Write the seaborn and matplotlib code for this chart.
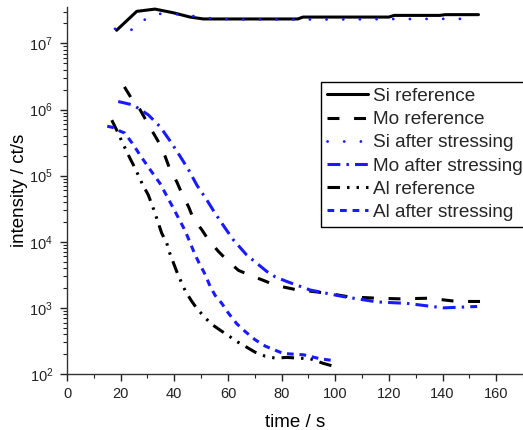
import numpy as np
import pandas as pd
import matplotlib
matplotlib.use("Agg")
import matplotlib.pyplot as plt
import seaborn as sns

# ---- data ----
si_ref_t = [18.5, 26, 32.8, 39.7, 45.9, 50.9, 60, 70, 86, 88, 120, 122, 139, 141, 153.4]
si_ref_i = [1.58e7, 3.05e7, 3.3e7, 2.9e7, 2.5e7, 2.34e7, 2.34e7, 2.34e7, 2.34e7,
            2.5e7, 2.5e7, 2.65e7, 2.65e7, 2.72e7, 2.72e7]

mo_ref_t = [21.4, 24, 27.2, 29.7, 32.2, 34.7, 36.6, 38.4, 40.9, 42.8, 45.3, 47.1, 50.3,
            52.7, 56.5, 59.6, 63.9, 68.3, 73.3, 77.6, 85, 97, 105, 115.6, 124, 135,
            145.5, 154]
mo_ref_i = [2.2e6, 1.48e6, 1.0e6, 6.6e5, 4.4e5, 2.95e5, 1.95e5, 1.23e5, 8.1e4, 5.4e4,
            3.4e4, 2.24e4, 1.51e4, 1.07e4, 7.1e3, 5.3e3, 3.7e3, 3.1e3, 2.6e3, 2.2e3,
            1.9e3, 1.67e3, 1.47e3, 1.4e3, 1.37e3, 1.4e3, 1.25e3, 1.25e3]

si_str_t = [17.9, 23.8, 28.5, 34.1, 39.7, 45.9, 51.5, 57.7, 63.3, 80, 100, 120, 140, 148.5]
si_str_i = [1.66e7, 1.58e7, 2.24e7, 2.8e7, 2.8e7, 2.63e7, 2.43e7, 2.34e7, 2.3e7, 2.3e7,
            2.3e7, 2.33e7, 2.35e7, 2.35e7]

mo_str_t = [19.1, 24.7, 30.3, 34.7, 39, 42.2, 45.3, 48.4, 52.1, 55.2, 59, 62, 67, 71.4,
            74.5, 77.6, 82, 90.7, 103, 115.6, 126.7, 140.3, 152.9]
mo_str_i = [1.32e6, 1.17e6, 8.3e5, 5.5e5, 3.1e5, 1.95e5, 1.23e5, 7.2e4, 4.3e4, 2.7e4,
            1.6e4, 1.07e4, 6.3e3, 4.5e3, 3.55e3, 2.95e3, 2.5e3, 1.86e3, 1.48e3, 1.23e3,
            1.17e3, 1.0e3, 1.05e3]

al_ref_t = [16.7, 18.5, 21, 23.5, 25.4, 28, 30.3, 32.5, 35.3, 37.2, 38.2, 40.9, 42.8,
            44.3, 46.5, 48.4, 51.5, 53.7, 57.1, 60.2, 63.3, 66.8, 70.1, 73.9, 77.6, 82,
            90.7, 95.5, 100]
al_ref_i = [6.9e5, 4.9e5, 2.95e5, 1.82e5, 1.29e5, 7.6e4, 5.1e4, 2.95e4, 1.35e4, 9.5e3,
            6.9e3, 3.55e3, 2.35e3, 1.74e3, 1.26e3, 9.8e2, 7.1e2, 5.75e2, 4.6e2, 3.8e2,
            3.1e2, 2.57e2, 2.14e2, 1.86e2, 1.74e2, 1.78e2, 1.7e2, 1.45e2, 1.29e2]

al_str_t = [15, 17.9, 19.8, 21.6, 22.9, 24.7, 27.2, 31, 34.7, 39, 44, 47.8, 49, 51.5,
            53.4, 55.2, 57.7, 60.2, 63.3, 66.4, 70.1, 74, 77.6, 80.7, 88.2, 94.4, 100]
al_str_i = [5.6e5, 5.25e5, 4.7e5, 4.4e5, 3.7e5, 2.95e5, 2.05e5, 1.23e5, 7.6e4, 3.6e4,
            1.48e4, 6.3e3, 5.0e3, 3.2e3, 2.1e3, 1.55e3, 1.17e3, 8.3e2, 5.75e2, 4.4e2,
            3.3e2, 2.63e2, 2.29e2, 2.04e2, 1.95e2, 1.7e2, 1.58e2]

labels = ["Si reference", "Mo reference", "Si after stressing",
          "Mo after stressing", "Al reference", "Al after stressing"]
x_ticks = [0, 20, 40, 60, 80, 100, 120, 140, 160]

series = [
    (labels[0], si_ref_t, si_ref_i),
    (labels[1], mo_ref_t, mo_ref_i),
    (labels[2], si_str_t, si_str_i),
    (labels[3], mo_str_t, mo_str_i),
    (labels[4], al_ref_t, al_ref_i),
    (labels[5], al_str_t, al_str_i),
]

BLUE = "#1a1aff"
LW = 2.2
styles = {
    labels[0]: dict(color="black", ls="-", cap="butt", lw=LW),
    labels[1]: dict(color="black", ls=(0, (3.9, 4.8)), cap="butt", lw=LW),
    labels[2]: dict(color=BLUE, ls=(0, (0.05, 5.95)), cap="round", lw=2.0),
    labels[3]: dict(color=BLUE, ls=(0, (4.2, 2.0, 0.8, 2.0)), cap="butt", lw=LW),
    labels[4]: dict(color="black", ls=(0, (4.1, 2.3, 0.8, 2.3, 0.8, 2.3)), cap="butt", lw=LW),
    labels[5]: dict(color=BLUE, ls=(0, (2.2, 1.9)), cap="butt", lw=LW),
}

sns.set_style("ticks")
plt.rcParams["font.family"] = ["Liberation Sans", "DejaVu Sans"]

fig = plt.figure(figsize=(5.23, 4.30), dpi=100)
ax = fig.add_axes([67 / 523, 56 / 430, 1 - 67 / 523, (374 - 7) / 430])

for name, t, i in series:
    df = pd.DataFrame({"time": t, "intensity": i})
    st = styles[name]
    sns.lineplot(data=df, x="time", y="intensity", ax=ax, color=st["color"],
                 linestyle=st["ls"], linewidth=st["lw"], label=name,
                 dash_capstyle=st["cap"])

ax.set_yscale("log")
ax.set_xlim(0, 170)
ax.set_ylim(100, 3.55e7)
ax.set_xticks(x_ticks)
ax.xaxis.set_minor_locator(matplotlib.ticker.MultipleLocator(10))
ax.yaxis.set_minor_locator(matplotlib.ticker.LogLocator(base=10, subs=np.arange(2, 10), numticks=20))
ax.tick_params(axis="both", which="major", direction="out", length=5, width=1,
               labelsize=10.5, colors="#222222", pad=4)
ax.tick_params(axis="y", which="major", pad=5)
ax.tick_params(axis="both", which="minor", direction="out", length=3, width=0.8,
               colors="#222222")
ax.set_xlabel("time / s", fontsize=13.5, color="black", labelpad=10)
ax.set_ylabel("intensity / ct/s", fontsize=13.5, color="black", labelpad=1)
sns.despine(ax=ax)
for sp in ["left", "bottom"]:
    ax.spines[sp].set_color("#333333")
    ax.spines[sp].set_linewidth(1.0)

leg = ax.legend(loc="upper left", bbox_to_anchor=(321 / 523, 1 - 82 / 430),
                bbox_transform=fig.transFigure, frameon=True, fancybox=False,
                edgecolor="black", framealpha=1, fontsize=13.7,
                handlelength=2.15, handletextpad=0.28, labelspacing=0.31,
                borderpad=0.3, borderaxespad=0)
leg.get_frame().set_linewidth(1.0)

fig.savefig("out.png", dpi=100)
